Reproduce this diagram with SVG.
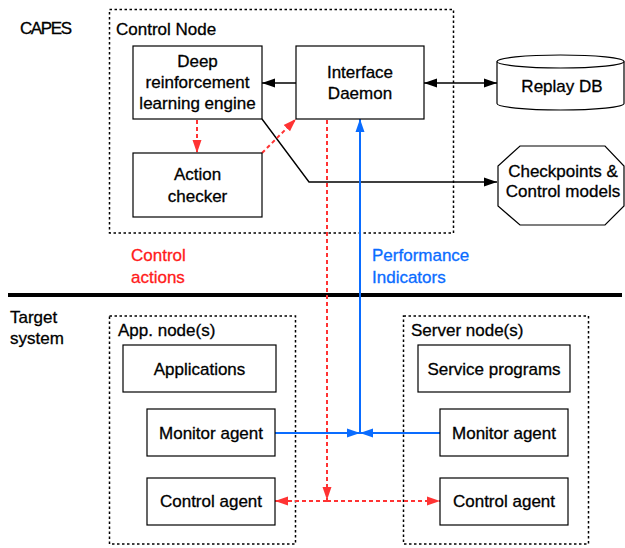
<svg xmlns="http://www.w3.org/2000/svg" width="625" height="548" viewBox="0 0 625 548">
<defs>
<style>
text{font-family:"Liberation Sans",Arial,sans-serif;font-size:17px;fill:#000;stroke:#000;stroke-width:0.3}
.c{text-anchor:middle}
.rt{fill:#ff1a1a;stroke:#ff1a1a}
.bt{fill:#0a6cff;stroke:#0a6cff}
.box{fill:#fff;stroke:#000;stroke-width:1.2}
.grp{fill:none;stroke:#000;stroke-width:1.5;stroke-dasharray:2.5,2.5}
.blk{fill:none;stroke:#000;stroke-width:1.4}
.red{fill:none;stroke:#ff3333;stroke-width:2;stroke-dasharray:4,3}
.blu{fill:none;stroke:#0a6cff;stroke-width:2}
</style>
<marker id="ab" markerUnits="userSpaceOnUse" markerWidth="14" markerHeight="10" refX="13" refY="5" orient="auto-start-reverse"><path d="M0,0.5 L13,5 L0,9.5 z" fill="#000"/></marker>
<marker id="ar" markerUnits="userSpaceOnUse" markerWidth="14" markerHeight="10" refX="13" refY="5" orient="auto-start-reverse"><path d="M0,0.5 L13,5 L0,9.5 z" fill="#ff3333"/></marker>
<marker id="au" markerUnits="userSpaceOnUse" markerWidth="14" markerHeight="10" refX="13" refY="5" orient="auto-start-reverse"><path d="M0,0.5 L13,5 L0,9.5 z" fill="#0a6cff"/></marker>
</defs>

<g id="labels">
<text x="20" y="34" textLength="52">CAPES</text>
<text x="10" y="323">Target</text>
<text x="10" y="344">system</text>
<text class="rt" x="131" y="261">Control</text>
<text class="rt" x="131" y="283">actions</text>
<text class="bt" x="372" y="261">Performance</text>
<text class="bt" x="372" y="283">Indicators</text>
<line x1="8" y1="295" x2="622" y2="295" stroke="#000" stroke-width="4"/>
</g>

<g id="control-node">
<rect class="grp" x="109.5" y="9.5" width="344" height="223.5"/>
<text x="116" y="35">Control Node</text>
</g>
<g id="app-nodes">
<rect class="grp" x="109.5" y="316" width="186" height="228"/>
<text x="118" y="336">App. node(s)</text>
</g>
<g id="server-nodes">
<rect class="grp" x="403.5" y="316" width="185" height="228"/>
<text x="411" y="336">Server node(s)</text>
</g>

<g id="connectors">
<line class="blk" x1="296" y1="83" x2="262" y2="83" marker-end="url(#ab)"/>
<line class="blk" x1="424" y1="83" x2="497" y2="83" marker-start="url(#ab)" marker-end="url(#ab)"/>
<polyline class="blk" points="262,119 309,182 497,182" marker-end="url(#ab)"/>
<line class="red" x1="197" y1="120" x2="197" y2="153" marker-end="url(#ar)"/>
<line class="red" x1="262" y1="153" x2="296" y2="119" marker-end="url(#ar)"/>
<line class="red" x1="327" y1="120" x2="327" y2="500" marker-end="url(#ar)"/>
<line class="red" x1="327" y1="501" x2="275" y2="501" marker-end="url(#ar)"/>
<line class="red" x1="327" y1="501" x2="440" y2="501" marker-end="url(#ar)"/>
<line class="blu" x1="360" y1="433" x2="360" y2="119" marker-end="url(#au)"/>
<line class="blu" x1="275" y1="433" x2="360" y2="433" marker-end="url(#au)"/>
<line class="blu" x1="440" y1="433" x2="360" y2="433" marker-end="url(#au)"/>
</g>

<g id="drl-engine">
<rect class="box" x="133" y="46" width="129" height="73"/>
<text class="c" x="197.5" y="67">Deep</text>
<text class="c" x="197.5" y="88">reinforcement</text>
<text class="c" x="197.5" y="109">learning engine</text>
</g>
<g id="interface-daemon">
<rect class="box" x="296" y="46" width="128" height="73"/>
<text class="c" x="360" y="78">Interface</text>
<text class="c" x="360" y="99">Daemon</text>
</g>
<g id="action-checker">
<rect class="box" x="133" y="153" width="129" height="64"/>
<text class="c" x="197.5" y="180">Action</text>
<text class="c" x="197.5" y="202">checker</text>
</g>
<g id="replay-db">
<path class="box" d="M497,61.5 L497,103.5 A63.5,6.5 0 0 0 624,103.5 L624,61.5 A63.5,6.5 0 0 0 497,61.5 Z"/>
<path class="blk" d="M497,61.5 A63.5,6.5 0 0 0 624,61.5" style="stroke-width:1.2"/>
<text class="c" x="562" y="92">Replay DB</text>
</g>
<g id="checkpoints">
<polygon class="box" points="520,146 605,146 624,166 624,206 605,225 520,225 498,206 498,166"/>
<text class="c" x="563" y="177">Checkpoints &amp;</text>
<text class="c" x="563" y="197">Control models</text>
</g>
<g id="applications">
<rect class="box" x="123" y="345" width="153" height="47"/>
<text class="c" x="199.5" y="375">Applications</text>
</g>
<g id="service-programs">
<rect class="box" x="418" y="345" width="152" height="47"/>
<text class="c" x="494" y="375">Service programs</text>
</g>
<g id="app-monitor">
<rect class="box" x="147" y="409" width="128" height="47"/>
<text class="c" x="211" y="439">Monitor agent</text>
</g>
<g id="app-control">
<rect class="box" x="147" y="478" width="128" height="47"/>
<text class="c" x="211" y="507">Control agent</text>
</g>
<g id="srv-monitor">
<rect class="box" x="440" y="409" width="128" height="47"/>
<text class="c" x="504" y="439">Monitor agent</text>
</g>
<g id="srv-control">
<rect class="box" x="440" y="478" width="128" height="47"/>
<text class="c" x="504" y="507">Control agent</text>
</g>
</svg>
